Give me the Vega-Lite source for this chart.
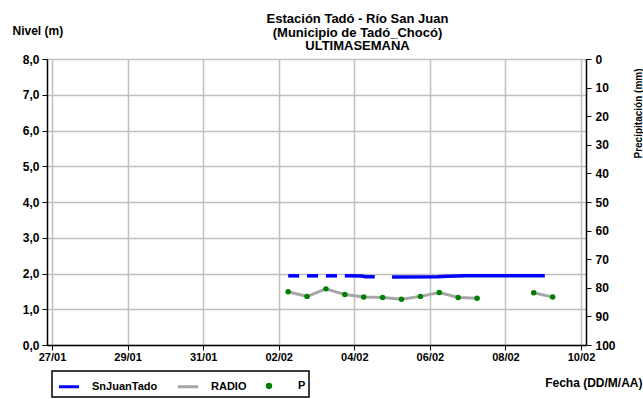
{
  "$schema": "https://vega.github.io/schema/vega-lite/v6.json",
  "width": 539,
  "height": 286,
  "autosize": {"type": "none"},
  "padding": {"left": 47, "top": 59, "right": 57, "bottom": 54},
  "background": "white",
  "title": {
    "text": ["Estación Tadó - Río San Juan", "(Municipio de Tadó_Chocó)", "ULTIMASEMANA"],
    "anchor": "middle",
    "frame": "group",
    "dx": 41,
    "dy": 37,
    "offset": 8,
    "font": "Liberation Sans",
    "fontSize": 13,
    "fontWeight": "bold",
    "lineHeight": 13.5,
    "color": "black"
  },
  "config": {
    "view": {"stroke": null},
    "axis": {
      "labelFont": "Liberation Sans",
      "labelFontSize": 11,
      "labelFontWeight": "bold",
      "labelColor": "black",
      "titleFont": "Liberation Sans",
      "titleFontSize": 12,
      "titleFontWeight": "bold",
      "titleColor": "black",
      "domainColor": "black",
      "domainWidth": 1.5,
      "tickColor": "black",
      "tickWidth": 1,
      "tickSize": 5,
      "gridColor": "#C0C0C0",
      "gridWidth": 1.5
    },
    "legend": {
      "labelFont": "Liberation Sans",
      "labelFontSize": 11,
      "labelFontWeight": "bold",
      "labelColor": "black"
    }
  },
  "datasets": {
    "lvl": [
      {"series": "SnJuanTado", "seg": 1, "t": "2025-02-02T06:00", "v": 1.935},
      {"series": "SnJuanTado", "seg": 1, "t": "2025-02-02T13:00", "v": 1.935},
      {"series": "SnJuanTado", "seg": 2, "t": "2025-02-02T18:00", "v": 1.935},
      {"series": "SnJuanTado", "seg": 2, "t": "2025-02-03T01:00", "v": 1.935},
      {"series": "SnJuanTado", "seg": 3, "t": "2025-02-03T06:00", "v": 1.935},
      {"series": "SnJuanTado", "seg": 3, "t": "2025-02-03T13:00", "v": 1.935},
      {"series": "SnJuanTado", "seg": 4, "t": "2025-02-03T18:00", "v": 1.935},
      {"series": "SnJuanTado", "seg": 4, "t": "2025-02-04T05:00", "v": 1.93},
      {"series": "SnJuanTado", "seg": 4, "t": "2025-02-04T07:00", "v": 1.91},
      {"series": "SnJuanTado", "seg": 4, "t": "2025-02-04T13:00", "v": 1.91},
      {"series": "SnJuanTado", "seg": 5, "t": "2025-02-05T00:00", "v": 1.905},
      {"series": "SnJuanTado", "seg": 5, "t": "2025-02-06T05:00", "v": 1.91},
      {"series": "SnJuanTado", "seg": 5, "t": "2025-02-06T11:00", "v": 1.925},
      {"series": "SnJuanTado", "seg": 5, "t": "2025-02-06T23:00", "v": 1.935},
      {"series": "SnJuanTado", "seg": 5, "t": "2025-02-07T06:00", "v": 1.94},
      {"series": "SnJuanTado", "seg": 5, "t": "2025-02-09T01:00", "v": 1.94},
      {"series": "RADIO", "seg": 1, "t": "2025-02-02T06:00", "v": 1.49},
      {"series": "RADIO", "seg": 1, "t": "2025-02-02T18:00", "v": 1.36},
      {"series": "RADIO", "seg": 1, "t": "2025-02-03T06:00", "v": 1.57},
      {"series": "RADIO", "seg": 1, "t": "2025-02-03T18:00", "v": 1.41},
      {"series": "RADIO", "seg": 1, "t": "2025-02-04T06:00", "v": 1.34},
      {"series": "RADIO", "seg": 1, "t": "2025-02-04T18:00", "v": 1.33},
      {"series": "RADIO", "seg": 1, "t": "2025-02-05T06:00", "v": 1.28},
      {"series": "RADIO", "seg": 1, "t": "2025-02-05T18:00", "v": 1.36},
      {"series": "RADIO", "seg": 1, "t": "2025-02-06T06:00", "v": 1.47},
      {"series": "RADIO", "seg": 1, "t": "2025-02-06T18:00", "v": 1.33},
      {"series": "RADIO", "seg": 1, "t": "2025-02-07T06:00", "v": 1.31},
      {"series": "RADIO", "seg": 2, "t": "2025-02-08T18:00", "v": 1.46},
      {"series": "RADIO", "seg": 2, "t": "2025-02-09T06:00", "v": 1.34}
    ],
    "prec": [
      {"series": "P", "t": "2025-02-03T00:00", "p": 0},
      {"series": "P", "t": "2025-02-06T00:00", "p": 0}
    ]
  },
  "encoding": {
    "x": {
      "field": "t",
      "type": "temporal",
      "scale": {
        "domain": [{"year": 2025, "month": 1, "date": 27}, {"year": 2025, "month": 2, "date": 10}],
        "nice": false
      },
      "axis": {
        "values": [
          {"year": 2025, "month": 1, "date": 27},
          {"year": 2025, "month": 1, "date": 29},
          {"year": 2025, "month": 1, "date": 31},
          {"year": 2025, "month": 2, "date": 2},
          {"year": 2025, "month": 2, "date": 4},
          {"year": 2025, "month": 2, "date": 6},
          {"year": 2025, "month": 2, "date": 8},
          {"year": 2025, "month": 2, "date": 10}
        ],
        "format": "%d/%m",
        "labelFontSize": 11,
        "labelPadding": 1,
        "title": "Fecha (DD/M/AA)",
        "titleAnchor": "end",
        "titleAlign": "right",
        "titleBaseline": "middle",
        "titleX": 595,
        "titleY": 37,
        "grid": true
      }
    }
  },
  "layer": [
    {
      "encoding": {
        "y": {
          "field": "v",
          "type": "quantitative",
          "scale": {"domain": [0, 8], "nice": false},
          "axis": {
            "values": [0, 1, 2, 3, 4, 5, 6, 7, 8],
            "labelExpr": "replace(format(datum.value, '.1f'), '.', ',')",
            "labelFontSize": 12,
            "labelPadding": 3,
            "title": "Nivel (m)",
            "titleAngle": 0,
            "titleAlign": "left",
            "titleBaseline": "middle",
            "titleX": -35,
            "titleY": -29,
            "grid": true
          }
        }
      },
      "layer": [
        {
          "data": {"name": "lvl"},
          "transform": [{"filter": "datum.series === 'SnJuanTado'"}],
          "mark": {"type": "line", "strokeWidth": 3.5, "strokeCap": "butt"},
          "encoding": {
            "detail": {"field": "seg"},
            "color": {
              "field": "series",
              "type": "nominal",
              "scale": {"domain": ["SnJuanTado", "RADIO", "P"], "range": ["#0000FF", "#A6A6A6", "#008000"]},
              "legend": {
                "title": null,
                "orient": "none",
                "legendX": 5,
                "legendY": 312,
                "direction": "horizontal",
                "columns": 3,
                "gridAlign": "each",
                "strokeColor": "black",
                "fillColor": "white",
                "padding": 3,
                "columnPadding": 14,
                "symbolType": "stroke",
                "symbolSize": 144,
                "symbolStrokeWidth": 3,
                "labelOffset": 14,
                "encode": {
                  "legend": {"update": {"strokeWidth": {"value": 1.5}}},
                  "symbols": {
                    "update": {
                      "shape": {"signal": "datum.label === 'P' ? 'circle' : 'stroke'"},
                      "size": {"signal": "datum.label === 'P' ? 12 : 400"},
                      "x": {"signal": "datum.label === 'P' ? 8 : 14"},
                      "stroke": {"signal": "datum.label === 'SnJuanTado' ? '#0000FF' : (datum.label === 'RADIO' ? '#A6A6A6' : 'transparent')"},
                      "fill": {"signal": "datum.label === 'P' ? '#008000' : 'transparent'"},
                      "strokeWidth": {"value": 3}
                    }
                  }
                }
              }
            }
          }
        },
        {
          "data": {"name": "lvl"},
          "transform": [{"filter": "datum.series === 'RADIO'"}],
          "mark": {"type": "line", "strokeWidth": 3},
          "encoding": {
            "detail": {"field": "seg"},
            "color": {"field": "series", "type": "nominal"}
          }
        },
        {
          "data": {"name": "lvl"},
          "transform": [{"filter": "datum.series === 'RADIO'"}],
          "mark": {"type": "point", "filled": true, "size": 30, "opacity": 1, "color": "#008000"}
        }
      ]
    },
    {
      "data": {"name": "prec"},
      "mark": {"type": "bar", "width": 4},
      "encoding": {
        "y": {
          "field": "p",
          "type": "quantitative",
          "scale": {"domain": [0, 100], "reverse": true, "nice": false},
          "axis": {
            "orient": "right",
            "values": [0, 10, 20, 30, 40, 50, 60, 70, 80, 90, 100],
            "labelFontSize": 12,
            "labelPadding": 4,
            "grid": false,
            "title": "Precipitación (mm)",
            "titleFontSize": 10,
            "titleAngle": 270,
            "titleAlign": "center",
            "titleBaseline": "alphabetic",
            "titleX": 55,
            "titleY": 54
          }
        },
        "color": {"field": "series", "type": "nominal"}
      }
    }
  ],
  "resolve": {"scale": {"y": "independent"}}
}
